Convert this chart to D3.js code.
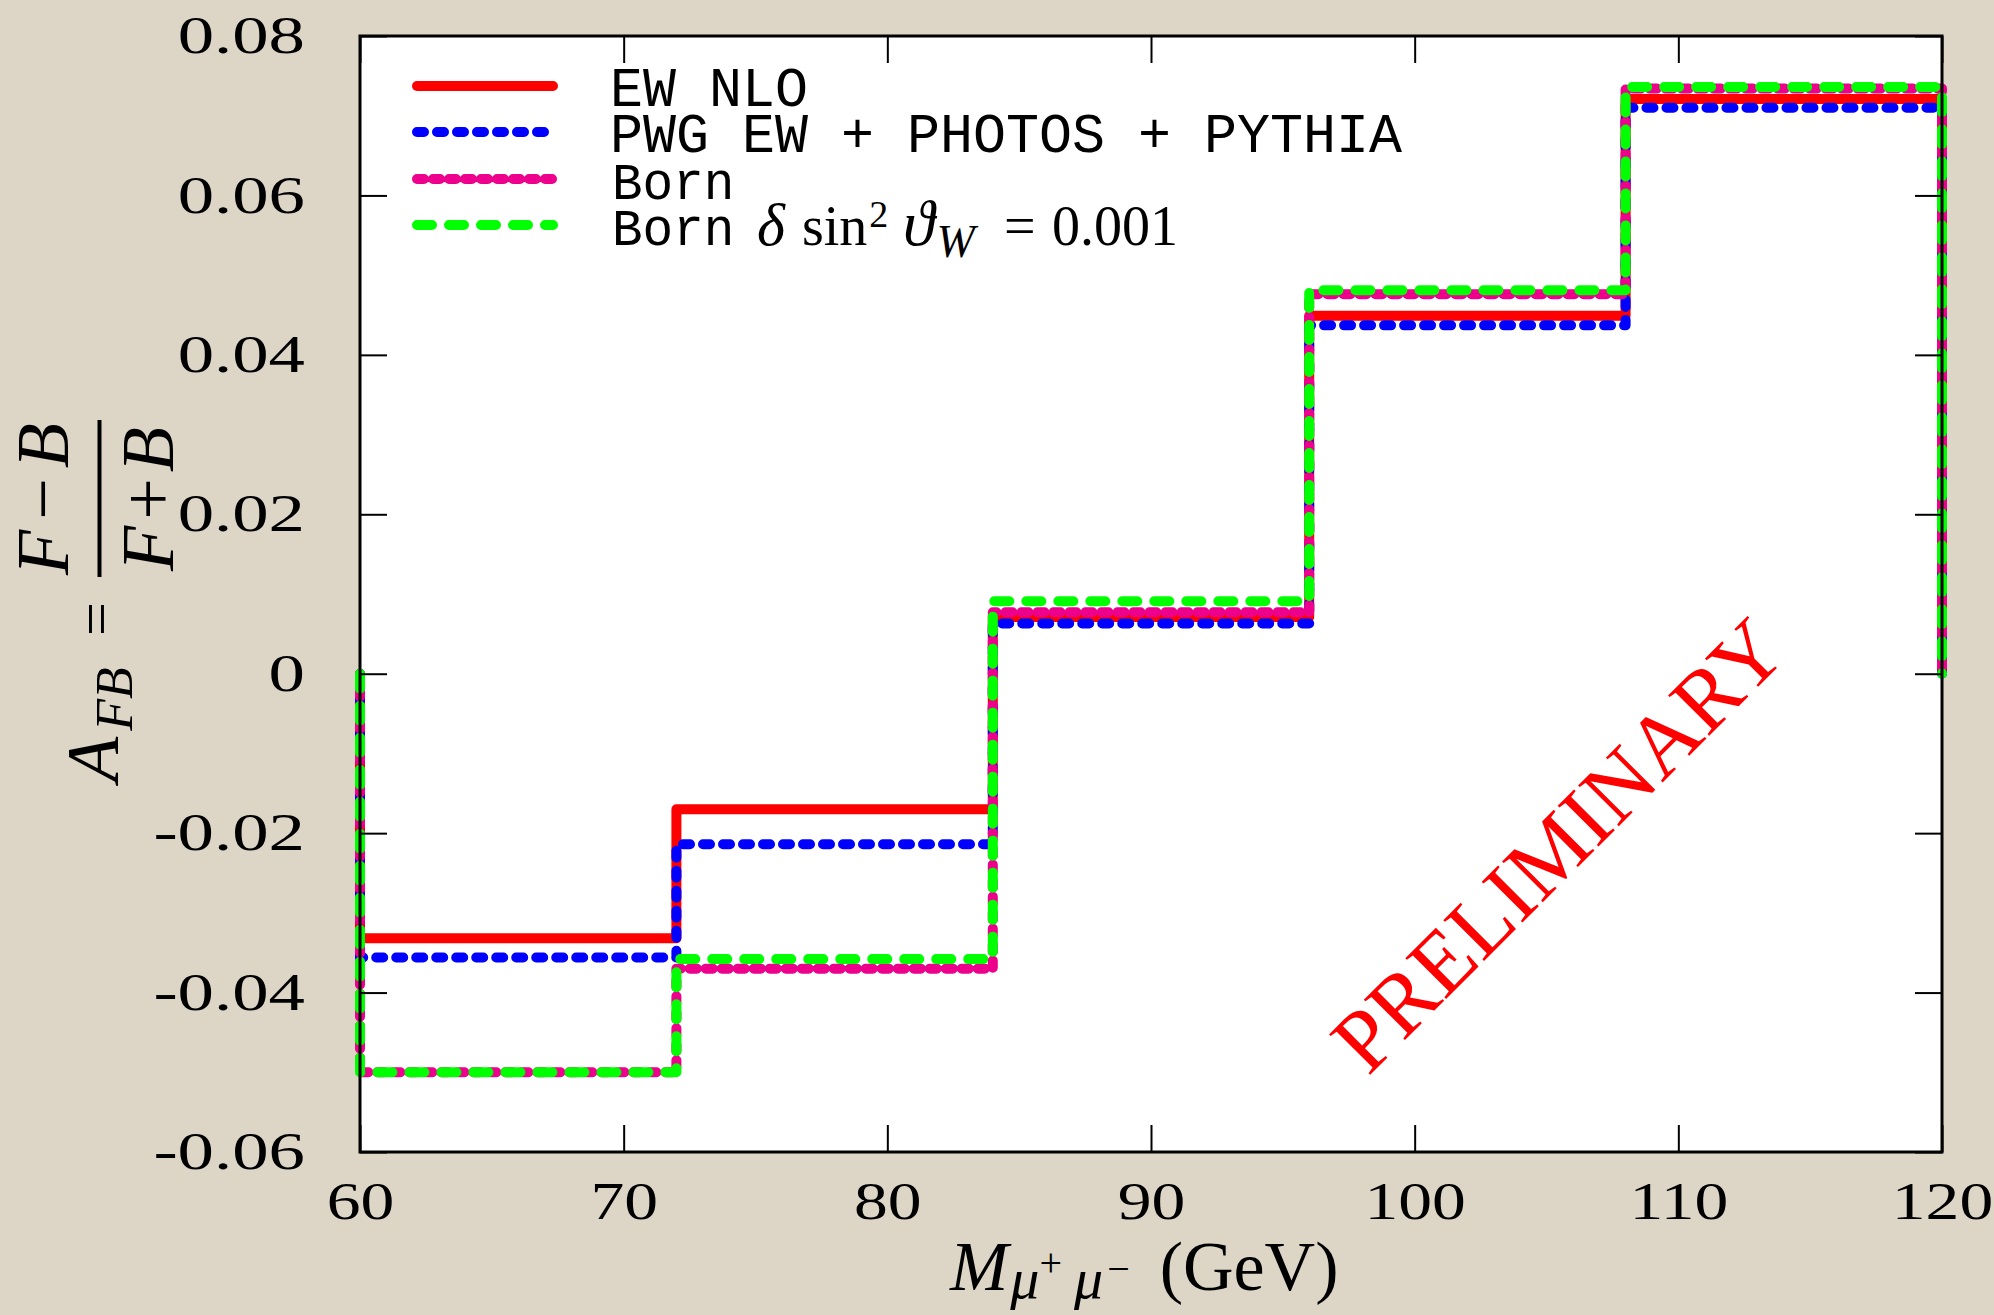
<!DOCTYPE html>
<html>
<head>
<meta charset="utf-8">
<script src="https://cdn.jsdelivr.net/npm/d3@7"></script>
<style>
  html, body { margin: 0; padding: 0; background: #ddd6c7; }
  svg { display: block; }
</style>
</head>
<body>
<div class="canvas"></div>
<script>
// data
const binEdges = [60, 72, 84, 96, 108, 120];
const ewNlo      = [-0.0332, -0.0170, 0.0071, 0.0449, 0.0721];
const pwgPhotos  = [-0.0356, -0.0214, 0.0063, 0.0437, 0.0710];
const born       = [-0.0500, -0.0370, 0.0077, 0.0476, 0.0734];
const bornShift  = [-0.0500, -0.0358, 0.0091, 0.0481, 0.0736];
const xTicks = [60, 70, 80, 90, 100, 110, 120];
const yTicks = [-0.06, -0.04, -0.02, 0, 0.02, 0.04, 0.06, 0.08];

const width = 1994, height = 1315;
const margin = { top: 36, right: 52, bottom: 163, left: 360 };
const graphWidth = width - margin.left - margin.right;
const graphHeight = height - margin.top - margin.bottom;

const svg = d3.select('.canvas').append('svg')
    .attr('width', width)
    .attr('height', height);

svg.append('rect').attr('width', width).attr('height', height).attr('fill', '#ddd6c7');

const graph = svg.append('g')
    .attr('transform', `translate(${margin.left}, ${margin.top})`);

graph.append('rect')
    .attr('width', graphWidth).attr('height', graphHeight)
    .attr('fill', '#fff');

const x = d3.scaleLinear().domain([60, 120]).range([0, graphWidth]);
const y = d3.scaleLinear().domain([-0.06, 0.08]).range([graphHeight, 0]);

// step outline: start at 0, walk the bins, come back down to 0
const stepPoints = vals => {
    const pts = [[binEdges[0], 0]];
    vals.forEach((v, i) => pts.push([binEdges[i], v]));
    pts.push([binEdges[binEdges.length - 1], vals[vals.length - 1]]);
    pts.push([binEdges[binEdges.length - 1], 0]);
    return pts;
};
const line = d3.line()
    .x(d => x(d[0]))
    .y(d => y(d[1]))
    .curve(d3.curveStepAfter);

const series = [
    { name: 'EW NLO', vals: ewNlo, color: '#ff0000', dash: null, cap: 'butt' },
    { name: 'PWG EW + PHOTOS + PYTHIA', vals: pwgPhotos, color: '#0000ff', dash: '7,13', cap: 'round' },
    { name: 'Born', vals: born, color: '#ec008c', dash: '7,9', cap: 'round' },
    { name: 'Born shift', vals: bornShift, color: '#00ff00', dash: '15,17', cap: 'round' }
];

series.forEach(s => {
    graph.append('path')
        .datum(stepPoints(s.vals))
        .attr('d', line)
        .attr('fill', 'none')
        .attr('stroke', s.color)
        .attr('stroke-width', 10)
        .attr('stroke-linecap', s.cap)
        .attr('stroke-linejoin', 'round')
        .attr('stroke-dasharray', s.dash);
});

// legend
const legendY = [86, 132, 179, 225];
const legend = svg.append('g');
series.forEach((s, i) => {
    legend.append('line')
        .attr('x1', 417).attr('x2', 553)
        .attr('y1', legendY[i]).attr('y2', legendY[i])
        .attr('stroke', s.color)
        .attr('stroke-width', 10)
        .attr('stroke-linecap', 'round')
        .attr('stroke-dasharray', s.dash);
});
const mono = '"Liberation Mono", "DejaVu Sans Mono", monospace';
const serif = '"Liberation Serif", "DejaVu Serif", serif';
legend.append('text').attr('x', 610).attr('y', 106)
    .attr('font-family', mono).attr('font-size', 55).text('EW NLO');
legend.append('text').attr('x', 610).attr('y', 152)
    .attr('font-family', mono).attr('font-size', 55).text('PWG EW + PHOTOS + PYTHIA');
legend.append('text').attr('x', 612).attr('y', 199)
    .attr('font-family', mono).attr('font-size', 51).text('Born');
const row4 = legend.append('text').attr('x', 612).attr('y', 245)
    .attr('font-family', serif).attr('font-size', 56);
row4.append('tspan').attr('font-family', mono).attr('font-size', 51).text('Born');
row4.append('tspan').attr('x', 757).attr('font-style', 'italic').attr('font-size', 60).text('δ');
row4.append('tspan').attr('x', 802).text('sin');
row4.append('tspan').attr('font-size', 38).attr('dx', 2).attr('dy', -18).text('2');
row4.append('tspan').attr('x', 903).attr('dy', 18).attr('font-style', 'italic').attr('font-size', 64).text('ϑ');
row4.append('tspan').attr('font-size', 46).attr('font-style', 'italic').attr('dx', 2).attr('dy', 12).text('W');
row4.append('tspan').attr('x', 1004).attr('dy', -12).text('=');
row4.append('tspan').attr('x', 1052).text('0.001');

// axes, ticks pointing inwards on all four sides
const yStretch = 1.4, xStretch = 1.3;
const tickLen = 27;
const yFmt = d => d === 0 ? '0' : d.toFixed(2);

const yAxisLeft = graph.append('g').call(
    d3.axisLeft(y).tickValues(yTicks).tickFormat(yFmt).tickSizeInner(-tickLen).tickSizeOuter(0).tickPadding(0));
const yAxisRight = graph.append('g').attr('transform', `translate(${graphWidth},0)`).call(
    d3.axisRight(y).tickValues(yTicks).tickFormat('').tickSizeInner(-tickLen).tickSizeOuter(0));
const xAxisBottom = graph.append('g').attr('transform', `translate(0,${graphHeight})`).call(
    d3.axisBottom(x).tickValues(xTicks).tickFormat(d3.format('d')).tickSizeInner(-tickLen).tickSizeOuter(0).tickPadding(30));
const xAxisTop = graph.append('g').call(
    d3.axisTop(x).tickValues(xTicks).tickFormat('').tickSizeInner(-tickLen).tickSizeOuter(0));

[yAxisLeft, yAxisRight, xAxisBottom, xAxisTop].forEach(a => {
    a.select('.domain').remove();
    a.selectAll('line').attr('stroke', '#000').attr('stroke-width', 2);
});

yAxisLeft.selectAll('text')
    .attr('font-family', serif).attr('font-size', 52).attr('fill', '#000')
    .attr('x', -55 / yStretch)
    .attr('transform', `scale(${yStretch},1)`);
xAxisBottom.selectAll('text')
    .attr('font-family', serif).attr('font-size', 52).attr('fill', '#000')
    .attr('transform', `scale(${xStretch},1)`);

// frame on top of the curves
graph.append('rect')
    .attr('width', graphWidth).attr('height', graphHeight)
    .attr('fill', 'none').attr('stroke', '#000').attr('stroke-width', 3);

// x title
const xt = svg.append('text').attr('x', 950).attr('y', 1290)
    .attr('font-family', serif).attr('font-size', 70);
xt.append('tspan').attr('font-style', 'italic').text('M');
xt.append('tspan').attr('font-style', 'italic').attr('font-size', 58).attr('dx', 2).attr('dy', 8).text('μ');
xt.append('tspan').attr('font-size', 40).attr('dy', -22).text('+');
xt.append('tspan').attr('font-style', 'italic').attr('font-size', 58).attr('dx', 12).attr('dy', 22).text('μ');
xt.append('tspan').attr('font-size', 40).attr('dx', 4).attr('dy', -16).text('−');
xt.append('tspan').attr('dx', 30).attr('dy', 8).text('(GeV)');

// y title, rotated
const yt = svg.append('g').attr('transform', 'rotate(-90)')
    .attr('font-family', serif);
const aText = yt.append('text').attr('x', -782).attr('y', 118).attr('font-size', 74);
aText.append('tspan').attr('font-style', 'italic').text('A');
aText.append('tspan').attr('font-style', 'italic').attr('font-size', 52).attr('dx', 6).attr('dy', 14).text('FB');
yt.append('text').attr('x', -636).attr('y', 116).attr('font-size', 60).text('=');
yt.append('line').attr('x1', -577).attr('x2', -420).attr('y1', 99.5).attr('y2', 99.5)
    .attr('stroke', '#000').attr('stroke-width', 4);
const num = yt.append('text').attr('x', -499).attr('y', 68).attr('font-size', 74).attr('text-anchor', 'middle');
num.append('tspan').attr('font-style', 'italic').text('F');
num.append('tspan').attr('dx', 10).text('−');
num.append('tspan').attr('dx', 10).attr('font-style', 'italic').text('B');
const den = yt.append('text').attr('x', -499).attr('y', 173).attr('font-size', 74).attr('text-anchor', 'middle');
den.append('tspan').attr('font-style', 'italic').text('F');
den.append('tspan').attr('dx', 6).text('+');
den.append('tspan').attr('dx', 6).attr('font-style', 'italic').text('B');

// watermark
svg.append('text')
    .attr('transform', 'translate(1579,866) rotate(-45)')
    .attr('text-anchor', 'middle')
    .attr('font-family', serif).attr('font-size', 88)
    .attr('fill', '#ff0000')
    .text('PRELIMINARY');
</script>
</body>
</html>
